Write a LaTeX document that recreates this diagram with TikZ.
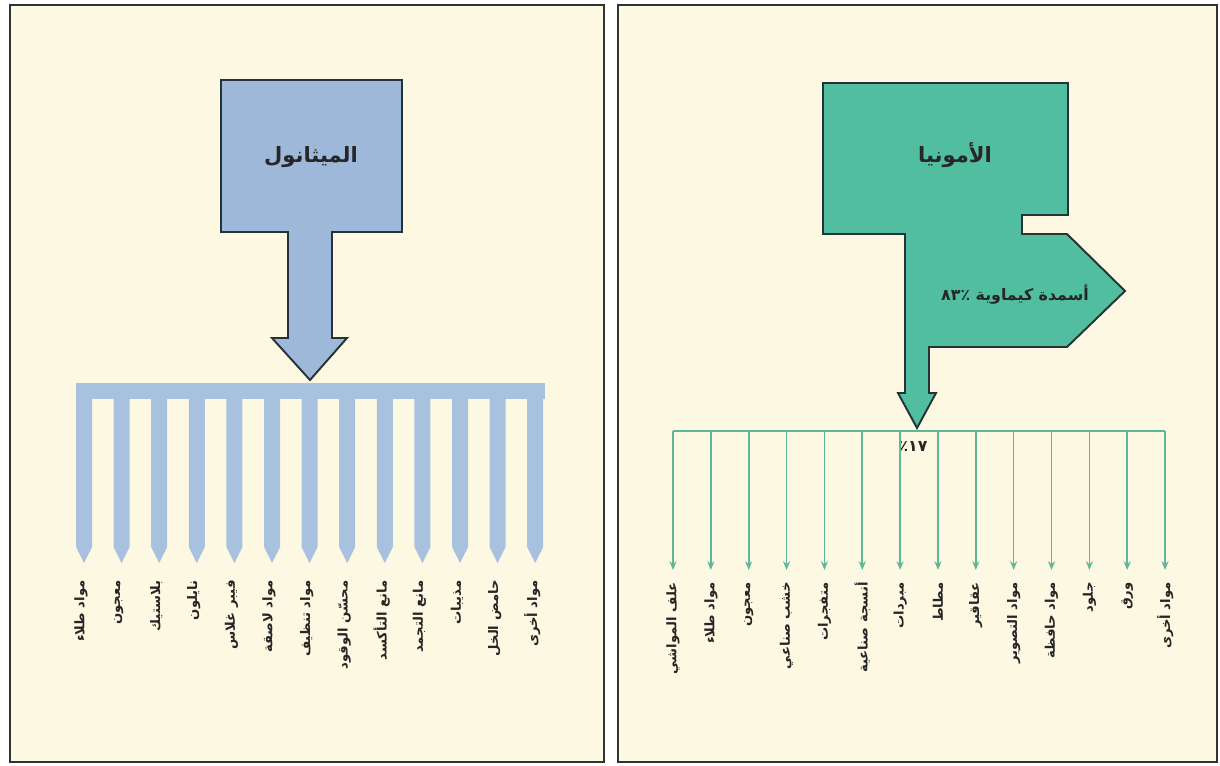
\documentclass[tikz,border=0pt]{standalone}
\usepackage{fontspec}
\usepackage{xcolor}
\usepackage{tikz}
\usetikzlibrary{arrows.meta, positioning}
\TeXXeTstate=1
\newfontfamily\arabicfont[Script=Arabic]{DejaVu Sans}

\definecolor{paper}{HTML}{FCF8E1}
\definecolor{methblue}{HTML}{9DB8D8}
\definecolor{combblue}{HTML}{A8C1DE}
\definecolor{ammgreen}{HTML}{50BE9F}
\definecolor{linegreen}{HTML}{5DB995}
\definecolor{edge}{HTML}{263238}

\tikzset{
  panel/.style={draw=black!80, line width=1.4pt, fill=paper},
  flowbox/.style={draw=edge, line width=1.1pt, line join=miter},
  lbl/.style={rotate=90, anchor=east, inner sep=0pt,
    font=\arabicfont\bfseries\fontsize{7.5}{9}\selectfont, text=black!85},
  title/.style={font=\arabicfont\bfseries\fontsize{12}{14}\selectfont, text=black!85},
  subtitle/.style={font=\arabicfont\bfseries\fontsize{9}{11}\selectfont, text=black!85},
  bus/.style={draw=linegreen, line width=0.9pt},
}

\begin{document}
\begin{tikzpicture}[x=0.02cm, y=-0.02cm, >=Stealth]
\useasboundingbox (0,0) rectangle (1220,766);
\fill[white] (0,0) rectangle (1220,766);

% Panels
\draw[panel] (10,5) rectangle (604,762);
\draw[panel] (618,5) rectangle (1217,762);

% Methanol
\draw[flowbox, fill=methblue] (221,80) -- (402,80) -- (402,232) -- (332,232)
    -- (332,338) -- (347,338) -- (310,380) -- (272,338) -- (288,338)
    -- (288,232) -- (221,232) -- cycle;
\node[title] (meth) at (311,157) {\beginR الميثانول\endR};

% Comb with 13 teeth
\fill[combblue] (76,383) rectangle (545,399);
\foreach \i in {0,...,12}{
  \pgfmathsetmacro{\cx}{84+37.6*\i}
  \fill[combblue] (\cx-8,398) -- (\cx+8,398) -- (\cx+8,547) -- (\cx,563)
      -- (\cx-8,547) -- cycle;
}

% Methanol products
\foreach \t [count=\i from 0] in {مواد طلاء, معجون, بلاستيك, نايلون,
    فيبر غلاس, مواد لاصقة, مواد تنظيف, محسّن الوقود, مانع التأكسد,
    مانع التجمد, مذيبات, حامض الخل, مواد أخرى}{
  \node[lbl] (ml\i) at (81+37.6*\i,580) {\beginR\t\endR};
}

% Ammonia
\draw[flowbox, fill=ammgreen] (823,83) -- (1068,83) -- (1068,215) -- (1022,215)
    -- (1022,234) -- (1067,234) -- (1125,291) -- (1067,347) -- (929,347)
    -- (929,393) -- (936,393) -- (917,428) -- (898,393) -- (905,393)
    -- (905,234) -- (823,234) -- cycle;
\node[title] (amm) at (955,155) {\beginR الأمونيا\endR};
\node[subtitle] (fert) at (1015,295) {\mbox{٨٣}\mbox{٪} \beginR أسمدة كيماوية\endR};

% Distribution line
\coordinate (busL) at (673,431);
\coordinate (busR) at (1165,431);
\draw[bus] (busL) -- (busR);
\node[subtitle] (p17) at (913,446) {\mbox{٪}\mbox{١٧}};

% Ammonia products
\foreach \t [count=\i from 0] in {علف المواشي, مواد طلاء, معجون, خشب صناعي,
    متفجرات, أنسجة صناعية, مبردات, مطاط, عقاقير, مواد التصوير,
    مواد حافظة, جلود, ورق, مواد أخرى}{
  \coordinate (top\i) at (673+37.85*\i,431);
  \node[lbl] (al\i) at (673+37.85*\i,582) {\beginR\t\endR};
  \draw[bus, -{Stealth[length=5pt, width=4pt]}, shorten >=0.24cm] (top\i) -- (al\i.east);
}

\end{tikzpicture}
\end{document}
